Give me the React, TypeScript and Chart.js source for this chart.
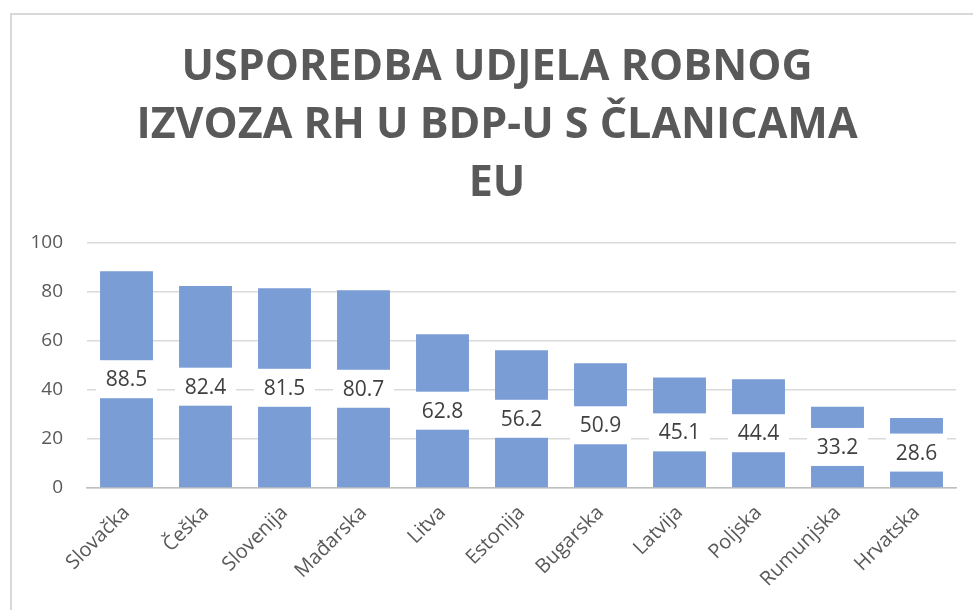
import React, { useEffect, useRef } from "react";
import { Chart, registerables } from "chart.js";

Chart.register(...registerables);

const categories = ["Slovačka", "Češka", "Slovenija", "Mađarska", "Litva", "Estonija", "Bugarska", "Latvija", "Poljska", "Rumunjska", "Hrvatska"];
const values = [88.5, 82.4, 81.5, 80.7, 62.8, 56.2, 50.9, 45.1, 44.4, 33.2, 28.6];
const titleLines = ["USPOREDBA UDJELA ROBNOG", "IZVOZA RH U BDP-U S ČLANICAMA", "EU"];
const yMin = 0;
const yMax = 100;
const yStep = 20;

const FONT = "'Open Sans', 'Noto Sans', sans-serif";

const labelPlugin = {
  id: "boxLabels",
  afterDatasetsDraw(chart: any) {
    const ctx = chart.ctx;
    const meta = chart.getDatasetMeta(0);
    ctx.save();
    meta.data.forEach((bar: any, i: number) => {
      const p = bar.getProps(["x", "y", "base", "width"], true);
      const cy = (p.y + p.base) / 2;
      const w = p.width + 8;
      const h = 38;
      ctx.fillStyle = "#ffffff";
      ctx.fillRect(p.x - w / 2, cy - h / 2, w, h);
      ctx.fillStyle = "#404040";
      ctx.font = `21px ${FONT}`;
      ctx.textAlign = "center";
      ctx.textBaseline = "middle";
      ctx.fillText(values[i].toFixed(1), p.x, cy + 1);
    });
    ctx.restore();
  },
};

const titlePlugin = {
  id: "customTitle",
  afterDraw(chart: any) {
    const ctx = chart.ctx;
    ctx.save();
    ctx.fillStyle = "#595959";
    ctx.font = `bold 43px ${FONT}`;
    ctx.textAlign = "center";
    ctx.textBaseline = "alphabetic";
    const cx = 497;
    const baselines = [80, 138, 196];
    titleLines.forEach((line, i) => ctx.fillText(line, cx, baselines[i]));
    ctx.restore();
  },
};

export default function App() {
  const ref = useRef<HTMLCanvasElement | null>(null);
  useEffect(() => {
    if (!ref.current) return;
    const chart = new Chart(ref.current, {
      type: "bar",
      data: {
        labels: categories,
        datasets: [
          {
            data: values,
            backgroundColor: "#7A9DD6",
            borderWidth: 0,
            categoryPercentage: 1,
            barPercentage: 0.67,
          },
        ],
      },
      options: {
        responsive: false,
        animation: false,
        layout: { padding: { left: 0, right: 17, top: 243, bottom: 0 } },
        plugins: {
          legend: { display: false },
          tooltip: { enabled: false },
          title: { display: false },
        },
        scales: {
          x: {
            grid: { display: false },
            border: { display: true, color: "#bfbfbf", width: 1.5 },
            ticks: {
              color: "#595959",
              font: { family: FONT, size: 20 },
              minRotation: 45,
              maxRotation: 45,
              padding: 5,
            },
            afterFit(scale: any) {
              scale.height = 122;
            },
          },
          y: {
            min: yMin,
            max: yMax,
            ticks: {
              stepSize: yStep,
              color: "#595959",
              font: { family: FONT, size: 19 },
              padding: 24,
            },
            grid: { color: "#dadada", lineWidth: 1.5, drawTicks: false },
            border: { display: false },
            afterFit(scale: any) {
              scale.width = 87;
            },
          },
        },
      },
      plugins: [labelPlugin, titlePlugin],
    } as any);
    return () => chart.destroy();
  }, []);

  return (
    <div style={{ position: "fixed", left: 0, top: 0, width: 973, height: 610, overflow: "hidden", background: "#fff" }}>
      <div
        style={{
          position: "absolute",
          left: 10,
          top: 13,
          width: 1200,
          height: 1000,
          border: "2px solid #d9d9d9",
        }}
      />
      <canvas ref={ref} width={973} height={610} style={{ position: "absolute", left: 0, top: 0 }} />
    </div>
  );
}
